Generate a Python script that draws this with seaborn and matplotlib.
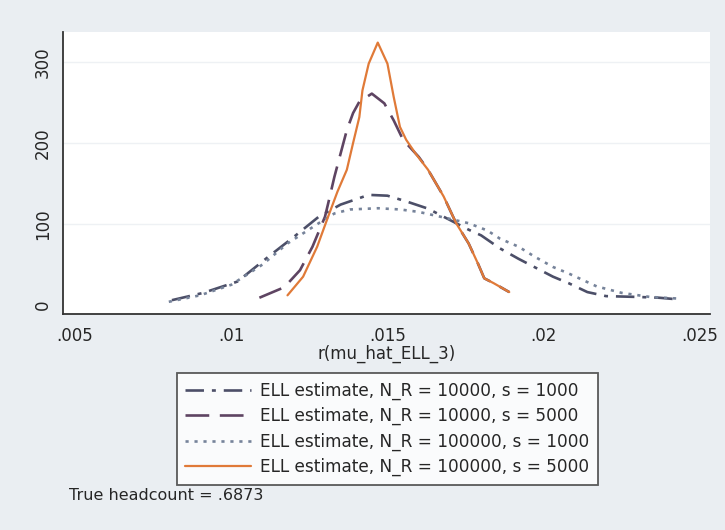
#
#  Kernel densities of ELL headcount estimates (Stata-style look)
#

import matplotlib
matplotlib.use("Agg")
import matplotlib.pyplot as plt
import seaborn as sns

sns.set_style("white")
plt.rcParams['font.family'] = ['DejaVu Sans']

#%%
#
#  Values
#

# N_R = 10000, s = 1000 (dash-dot)
x_a = [.0081, .0091, .0102, .0112, .0120, .0128, .0135, .0144, .0150, .0156,
       .0163, .0169, .0176, .0180, .0186, .0192, .0197, .0203, .0208, .0214,
       .0220, .0230, .0237, .0243]
y_a = [6, 15, 29, 60, 84, 109, 124, 136, 135, 128,
       119, 107, 93, 86, 70, 57, 47, 35, 27, 16,
       11, 10, 9, 7]

# N_R = 10000, s = 5000 (long dash)
x_b = [.0109, .0117, .0122, .0126, .0130, .0131, .0133, .0135, .0137, .0139,
       .0141, .0145, .0149, .0152, .0155, .0160, .0163, .0168, .0172, .0176,
       .0179, .0181, .0184, .0189]
y_b = [9, 22, 43, 72, 109, 125, 158, 187, 216, 237,
       251, 261, 249, 228, 204, 183, 167, 134, 101, 76,
       51, 33, 27, 16]

# N_R = 100000, s = 1000 (dotted)
x_c = [.0080, .0090, .0100, .0110, .0118, .0128, .0133, .0138, .0147, .0154,
       .0160, .0167, .0176, .0182, .0186, .0192, .0197, .0203, .0208, .0217,
       .0225, .0234, .0243]
y_c = [4, 12, 25, 50, 76, 101, 113, 118, 119.5, 118,
       115, 109, 101, 92, 82, 72, 60, 47, 39, 23,
       15, 10, 8]

# N_R = 100000, s = 5000 (solid orange)
x_d = [.0118, .0123, .01275, .0131, .0134, .0137, .0139, .0141, .0142, .0144,
       .01469, .0150, .0152, .0154, .0156, .0159, .0163, .0168, .0172, .0176,
       .0179, .0181, .0184, .0189]
y_d = [12, 35, 72, 109, 140, 167, 200, 232, 265, 298,
       324, 298, 257, 220, 204, 187, 167, 134, 101, 76,
       51, 33, 27, 16]

labels = ["ELL estimate, N_R = 10000, s = 1000",
          "ELL estimate, N_R = 10000, s = 5000",
          "ELL estimate, N_R = 100000, s = 1000",
          "ELL estimate, N_R = 100000, s = 5000"]

x_ticks = [.005, .01, .015, .02, .025]
x_ticklabels = [".005", ".01", ".015", ".02", ".025"]
y_ticks = [0, 100, 200, 300]

#%%
#
#  Draw
#

fig = plt.figure(figsize=(7.25, 5.3), dpi=100, facecolor="#eaeef2")
ax = fig.add_axes([0.087, 0.4075, 0.892, 0.532])
ax.set_facecolor("white")

sns.lineplot(x=x_a, y=y_a, ax=ax, color="#4c4f68", lw=1.9,
             linestyle=(0, (7, 3, 1.5, 3)), label=labels[0])
sns.lineplot(x=x_b, y=y_b, ax=ax, color="#5e4462", lw=1.9,
             linestyle=(0, (9, 4)), label=labels[1])
sns.lineplot(x=x_c, y=y_c, ax=ax, color="#76839a", lw=1.9,
             linestyle=(0, (1.2, 2.2)), label=labels[2])
sns.lineplot(x=x_d, y=y_d, ax=ax, color="#e07a38", lw=1.6,
             linestyle="-", label=labels[3])

ax.set_xlim(.004615, .02532)
ax.set_ylim(-11.1, 337)
ax.set_xticks(x_ticks)
ax.set_xticklabels(x_ticklabels)
ax.set_yticks(y_ticks)
ax.set_yticklabels([str(v) for v in y_ticks], rotation=90, va="center")
ax.tick_params(axis="both", direction="out", length=5, width=1.1,
               color="#333333", labelsize=12, pad=3)
ax.tick_params(axis="x", pad=4)
for v in y_ticks[1:]:
    ax.axhline(v, color="#eef1f4", lw=1, zorder=0)

sns.despine(ax=ax)
for s in ["left", "bottom"]:
    ax.spines[s].set_color("#333333")
    ax.spines[s].set_linewidth(1.3)

ax.set_xlabel("r(mu_hat_ELL_3)", fontsize=12, labelpad=0)
ax.set_ylabel("")

leg = ax.legend(loc="center", bbox_to_anchor=(0.534, 0.1906),
                bbox_transform=fig.transFigure, fontsize=12.2,
                frameon=True, fancybox=False, handlelength=3.9,
                handletextpad=0.5, labelspacing=0.42, borderpad=0.5,
                borderaxespad=0)
leg.get_frame().set_edgecolor("#333333")
leg.get_frame().set_linewidth(1.3)
leg.get_frame().set_facecolor("white")

fig.text(0.095, 0.066, "True headcount = .6873", fontsize=11.5,
         ha="left", va="center")

fig.savefig("out.png", dpi=100, facecolor=fig.get_facecolor())
